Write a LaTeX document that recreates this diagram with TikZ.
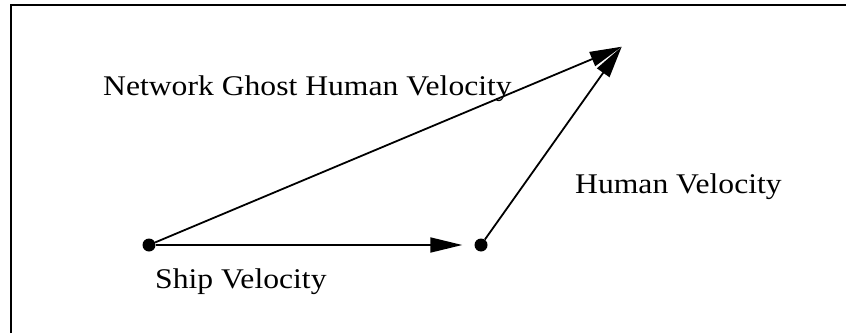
\documentclass[tikz,border=0pt]{standalone}
\usepackage{fontspec}
\setmainfont{Liberation Serif}
\usetikzlibrary{arrows.meta}

\newcommand{\widetext}[1]{\scalebox{1.11}[1]{#1}}

\tikzset{
  every node/.style={font=\fontsize{28.5}{34}\selectfont},
  dot/.style={circle, fill=black, inner sep=0pt, minimum size=13pt},
  label/.style={anchor=base west, inner sep=0pt},
  vec/.style={-{Triangle[length=32pt,width=15pt]}, line width=1.8pt},
  frame/.style={line width=2pt},
}

\begin{document}
\begin{tikzpicture}[x=1pt, y=1pt]
        \useasboundingbox (0,0) rectangle (846,333);
        % frame
        \draw[frame] (11,0) -- (11,327.5) -- (846,327.5);
        % nodes
        \node[dot] (ship) at (149,88) {};
        \node[dot] (human) at (481,88) {};
        \coordinate (tip) at (621.7,286.3);
        \node[label] (ghostlbl) at (103,238) {\widetext{Network Ghost Human Velocity}};
        \node[label] (humanlbl) at (575,139.7) {\widetext{Human Velocity}};
        \node[label] (shiplbl) at (155,44.7) {\widetext{Ship Velocity}};
        % arrows
        \draw[vec, shorten >=12pt] (ship) -- (human);
        \draw[vec] (ship) -- (tip);
        \draw[vec] (human) -- (tip);
    \end{tikzpicture}
\end{document}
